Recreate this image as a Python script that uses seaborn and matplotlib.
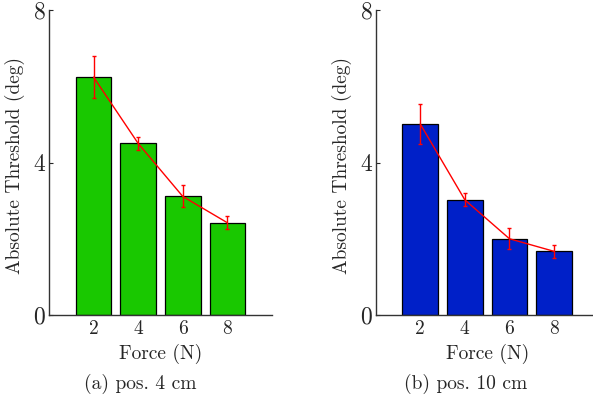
import matplotlib
matplotlib.use("Agg")
import matplotlib.pyplot as plt
import numpy as np
import pandas as pd
import seaborn as sns

# data
force = [2, 4, 6, 8]
thr_4cm = [6.24, 4.50, 3.11, 2.42]
err_4cm = [0.55, 0.18, 0.29, 0.17]
thr_10cm = [5.01, 3.02, 2.00, 1.67]
err_10cm = [0.52, 0.17, 0.28, 0.17]
captions = ["(a) pos. 4 cm", "(b) pos. 10 cm"]
bar_colors = ["#19c800", "#0020c8"]

sns.set_theme(style="ticks")
plt.rcParams["font.family"] = ["cmr10", "DejaVu Serif"]
plt.rcParams["mathtext.fontset"] = "cm"
plt.rcParams["axes.formatter.use_mathtext"] = True

fig = plt.figure(figsize=(5.93, 4.0), dpi=100)
ax1 = fig.add_axes([0.0826, 0.2125, 0.376, 0.7625])
ax2 = fig.add_axes([0.6335, 0.2125, 0.376, 0.7625])

panels = [(ax1, thr_4cm, err_4cm), (ax2, thr_10cm, err_10cm)]
cap_x = [140 / 593, 466 / 593]

for i, (ax, thr, err) in enumerate(panels):
    df = pd.DataFrame({"Force": force, "Threshold": thr})
    sns.barplot(data=df, x="Force", y="Threshold", ax=ax, color=bar_colors[i],
                saturation=1, width=0.8, edgecolor="black", linewidth=0.9,
                errorbar=None)
    pos = np.arange(len(force))
    ax.errorbar(pos, thr, yerr=err, color="#ff0000", lw=1.0, elinewidth=1.0,
                capsize=1.5, capthick=1.0)
    ax.set_xlim(-1, 4)
    ax.set_ylim(0, 8)
    ax.set_yticks([0, 4, 8])
    ax.set_xticks(pos)
    ax.set_xticklabels([str(f) for f in force])
    ax.tick_params(axis="y", direction="in", length=3, pad=2, labelsize=17, width=0.8)
    ax.tick_params(axis="x", length=0, pad=4, labelsize=14)
    for s in ["top", "right"]:
        ax.spines[s].set_visible(False)
    for s in ["left", "bottom"]:
        ax.spines[s].set_color("#333333")
        ax.spines[s].set_linewidth(1.0)
    ax.set_xlabel("Force (N)", fontsize=14)
    ax.set_ylabel("Absolute Threshold (deg)", fontsize=14)
    ax.yaxis.set_label_coords(-0.108, 0.49)
    ax.xaxis.set_label_coords(0.5, -0.095)
    fig.text(cap_x[i], 1 - 384 / 400, captions[i], ha="center", va="center", fontsize=14)

fig.savefig("out.png", dpi=100)
